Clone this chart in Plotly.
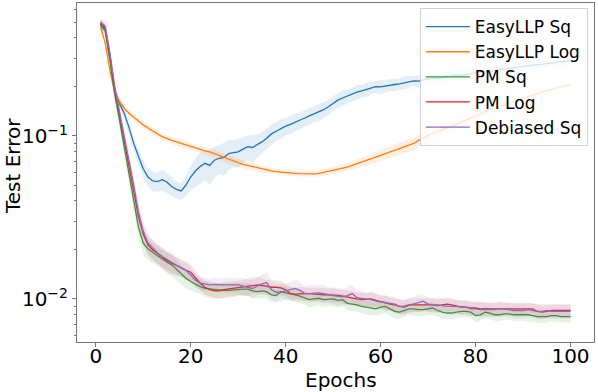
import plotly.graph_objects as go

# test error per epoch
epochs = list(range(1, 101))

easyllp_sq = [
    0.49, 0.45, 0.30, 0.19, 0.158, 0.138, 0.113, 0.090, 0.075, 0.063,
    0.056, 0.053, 0.0525, 0.054, 0.052, 0.049, 0.047, 0.046, 0.050, 0.056,
    0.061, 0.065, 0.068, 0.066, 0.071, 0.073, 0.074, 0.078, 0.079, 0.080,
    0.083, 0.086, 0.085, 0.088, 0.092, 0.097, 0.103, 0.107, 0.111, 0.115,
    0.118, 0.122, 0.125, 0.129, 0.133, 0.137, 0.140, 0.145, 0.151, 0.158,
    0.166, 0.171, 0.176, 0.180, 0.186, 0.189, 0.193, 0.198, 0.201, 0.200,
    0.203, 0.206, 0.207, 0.209, 0.213, 0.215, 0.218, 0.217, 0.221, 0.224,
    0.226, 0.225, 0.229, 0.232, 0.234, 0.236, 0.235, 0.239, 0.242, 0.245,
    0.247, 0.250, 0.249, 0.253, 0.256, 0.258, 0.260, 0.262, 0.264, 0.267,
    0.270, 0.271, 0.274, 0.276, 0.278, 0.280, 0.283, 0.285, 0.287, 0.290,
]
easyllp_log = [
    0.47, 0.37, 0.25, 0.185, 0.163, 0.148, 0.138, 0.130, 0.123, 0.117,
    0.112, 0.107, 0.103, 0.099, 0.096, 0.094, 0.092, 0.090, 0.088, 0.086,
    0.085, 0.083, 0.081, 0.080, 0.078, 0.076, 0.074, 0.072, 0.070, 0.068,
    0.067, 0.066, 0.065, 0.0635, 0.0625, 0.0617, 0.0610, 0.0605, 0.0600, 0.0595,
    0.0592, 0.0590, 0.0588, 0.0586, 0.0585, 0.0586, 0.0590, 0.0598, 0.0607, 0.0615,
    0.0625, 0.0635, 0.0645, 0.0660, 0.0675, 0.0690, 0.0705, 0.0720, 0.0740, 0.0760,
    0.078, 0.080, 0.082, 0.084, 0.086, 0.088, 0.090, 0.094, 0.098, 0.101,
    0.104, 0.107, 0.110, 0.112, 0.115, 0.118, 0.121, 0.125, 0.129, 0.133,
    0.137, 0.141, 0.145, 0.148, 0.152, 0.155, 0.159, 0.163, 0.167, 0.171,
    0.175, 0.179, 0.183, 0.186, 0.190, 0.194, 0.197, 0.200, 0.204, 0.207,
]
pm_sq = [
    0.48, 0.44, 0.29, 0.18, 0.125, 0.085, 0.058, 0.040, 0.0275, 0.022,
    0.0203, 0.0193, 0.0184, 0.0176, 0.0168, 0.0162, 0.0152, 0.0142, 0.0134, 0.0128,
    0.0123, 0.0119, 0.0116, 0.0115, 0.0114, 0.0113, 0.0113, 0.0113, 0.0114, 0.0115,
    0.0115, 0.0115, 0.0112, 0.0111, 0.0112, 0.0111, 0.0106, 0.0105, 0.0111, 0.0109,
    0.0108, 0.0106, 0.0104, 0.0102, 0.0099, 0.0100, 0.0101, 0.0099, 0.0100, 0.0100,
    0.0098, 0.0099, 0.0094, 0.0093, 0.0092, 0.0090, 0.0089, 0.0088, 0.0087, 0.0089,
    0.0090, 0.0087, 0.0084, 0.0083, 0.0085, 0.0087, 0.0087, 0.0086, 0.0086, 0.0087,
    0.0088, 0.0085, 0.0083, 0.0082, 0.0082, 0.0083, 0.0084, 0.0084, 0.0083, 0.0079,
    0.0080, 0.0083, 0.0082, 0.0080, 0.0080, 0.0081, 0.0081, 0.0080, 0.0080, 0.0080,
    0.0080, 0.0079, 0.0078, 0.0078, 0.0078, 0.0079, 0.0079, 0.0078, 0.0078, 0.0078,
]
pm_log = [
    0.49, 0.46, 0.31, 0.19, 0.135, 0.095, 0.066, 0.046, 0.032, 0.025,
    0.0215, 0.0200, 0.0190, 0.0180, 0.0172, 0.0166, 0.0160, 0.0155, 0.0150, 0.0146,
    0.0135, 0.0125, 0.0118, 0.0114, 0.0112, 0.0112, 0.0114, 0.0115, 0.0116, 0.0117,
    0.0118, 0.0119, 0.0121, 0.0122, 0.0121, 0.0119, 0.0118, 0.0118, 0.0117, 0.0114,
    0.0108, 0.0107, 0.0108, 0.0108, 0.0108, 0.0107, 0.0107, 0.0106, 0.0106, 0.0106,
    0.0105, 0.0104, 0.0103, 0.0102, 0.0100, 0.0099, 0.0099, 0.0100, 0.0098, 0.0096,
    0.0095, 0.0093, 0.0092, 0.0090, 0.0090, 0.0092, 0.0092, 0.0092, 0.0092, 0.0092,
    0.0092, 0.0091, 0.0092, 0.0093, 0.0092, 0.0090, 0.0089, 0.0089, 0.0088, 0.0088,
    0.0087, 0.0087, 0.0087, 0.0087, 0.0087, 0.0087, 0.0087, 0.0087, 0.0087, 0.0087,
    0.0087, 0.0087, 0.0084, 0.0083, 0.0084, 0.0085, 0.0085, 0.0085, 0.0085, 0.0085,
]
debiased_sq = [
    0.50, 0.47, 0.32, 0.20, 0.140, 0.100, 0.070, 0.050, 0.034, 0.026,
    0.0220, 0.0205, 0.0192, 0.0182, 0.0174, 0.0167, 0.0161, 0.0155, 0.0150, 0.0140,
    0.0130, 0.0125, 0.0123, 0.0122, 0.0123, 0.0122, 0.0122, 0.0122, 0.0122, 0.0122,
    0.0120, 0.0118, 0.0116, 0.0120, 0.0124, 0.0126, 0.0114, 0.0110, 0.0110, 0.0112,
    0.0114, 0.0116, 0.0113, 0.0108, 0.0108, 0.0109, 0.0109, 0.0108, 0.0106, 0.0105,
    0.0104, 0.0103, 0.0105, 0.0108, 0.0102, 0.0101, 0.0099, 0.0099, 0.0097, 0.0096,
    0.0095, 0.0094, 0.0093, 0.0090, 0.0089, 0.00915, 0.0093, 0.0095, 0.0097, 0.0093,
    0.0092, 0.0092, 0.0091, 0.0090, 0.0090, 0.0090, 0.0089, 0.0089, 0.0087, 0.0087,
    0.0086, 0.0086, 0.0086, 0.0086, 0.0087, 0.0087, 0.0086, 0.0085, 0.0085, 0.0085,
    0.0086, 0.0085, 0.0084, 0.0084, 0.0085, 0.0084, 0.0084, 0.0084, 0.0084, 0.0084,
]

# relative half-width of the shaded band around each curve
easyllp_sq_spread = [
    0.05, 0.05, 0.06, 0.06, 0.07, 0.08, 0.09, 0.10, 0.11, 0.12,
    0.13, 0.14, 0.13, 0.15, 0.14, 0.13, 0.12, 0.12, 0.14, 0.17,
    0.20, 0.22, 0.21, 0.24, 0.22, 0.20, 0.23, 0.21, 0.19, 0.20,
    0.18, 0.17, 0.19, 0.16, 0.15, 0.14, 0.15, 0.13, 0.14, 0.12,
    0.13, 0.12, 0.13, 0.11, 0.12, 0.11, 0.12, 0.11, 0.10, 0.11,
    0.10, 0.11, 0.10, 0.09, 0.10, 0.09, 0.10, 0.09, 0.08, 0.10,
    0.09, 0.08, 0.09, 0.08, 0.09, 0.08, 0.07, 0.08, 0.09, 0.08,
    0.07, 0.08, 0.07, 0.08, 0.07, 0.08, 0.07, 0.06, 0.07, 0.07,
    0.06, 0.07, 0.06, 0.07, 0.06, 0.06, 0.07, 0.06, 0.06, 0.06,
    0.05, 0.06, 0.05, 0.06, 0.05, 0.05, 0.06, 0.05, 0.05, 0.05,
]
easyllp_log_spread = [
    0.04, 0.04, 0.05, 0.05, 0.05, 0.05, 0.05, 0.05, 0.05, 0.05,
    0.05, 0.05, 0.05, 0.05, 0.05, 0.05, 0.05, 0.05, 0.05, 0.05,
    0.05, 0.05, 0.05, 0.06, 0.06, 0.06, 0.06, 0.06, 0.06, 0.06,
    0.05, 0.05, 0.05, 0.05, 0.05, 0.04, 0.04, 0.04, 0.04, 0.04,
    0.04, 0.04, 0.04, 0.04, 0.04, 0.04, 0.04, 0.05, 0.05, 0.05,
    0.05, 0.05, 0.06, 0.06, 0.06, 0.07, 0.07, 0.07, 0.08, 0.08,
    0.08, 0.09, 0.09, 0.09, 0.09, 0.09, 0.09, 0.08, 0.08, 0.08,
    0.08, 0.08, 0.07, 0.07, 0.07, 0.07, 0.07, 0.07, 0.06, 0.06,
    0.06, 0.06, 0.06, 0.06, 0.06, 0.05, 0.05, 0.05, 0.05, 0.05,
    0.05, 0.05, 0.05, 0.05, 0.05, 0.04, 0.04, 0.04, 0.04, 0.04,
]
pm_sq_spread = [
    0.06, 0.07, 0.08, 0.09, 0.10, 0.11, 0.12, 0.13, 0.14, 0.15,
    0.15, 0.14, 0.13, 0.13, 0.14, 0.15, 0.14, 0.13, 0.14, 0.12,
    0.11, 0.10, 0.11, 0.12, 0.11, 0.10, 0.11, 0.10, 0.10, 0.09,
    0.10, 0.09, 0.10, 0.09, 0.10, 0.09, 0.10, 0.09, 0.09, 0.10,
    0.09, 0.09, 0.10, 0.09, 0.10, 0.09, 0.09, 0.10, 0.09, 0.09,
    0.10, 0.09, 0.09, 0.10, 0.09, 0.09, 0.10, 0.09, 0.09, 0.10,
    0.09, 0.09, 0.10, 0.09, 0.09, 0.08, 0.09, 0.08, 0.09, 0.08,
    0.09, 0.08, 0.09, 0.08, 0.09, 0.08, 0.09, 0.08, 0.08, 0.09,
    0.08, 0.09, 0.08, 0.08, 0.09, 0.08, 0.08, 0.09, 0.08, 0.08,
    0.09, 0.08, 0.08, 0.09, 0.08, 0.08, 0.09, 0.08, 0.08, 0.08,
]
pm_log_spread = [
    0.06, 0.07, 0.08, 0.09, 0.10, 0.11, 0.12, 0.13, 0.14, 0.14,
    0.14, 0.14, 0.13, 0.14, 0.15, 0.14, 0.13, 0.12, 0.13, 0.12,
    0.11, 0.10, 0.10, 0.09, 0.10, 0.11, 0.10, 0.10, 0.11, 0.10,
    0.11, 0.12, 0.11, 0.12, 0.11, 0.10, 0.11, 0.10, 0.10, 0.09,
    0.10, 0.09, 0.10, 0.09, 0.09, 0.10, 0.09, 0.10, 0.09, 0.10,
    0.09, 0.10, 0.09, 0.09, 0.10, 0.09, 0.09, 0.10, 0.09, 0.09,
    0.10, 0.09, 0.09, 0.10, 0.09, 0.10, 0.09, 0.10, 0.09, 0.09,
    0.10, 0.09, 0.09, 0.10, 0.09, 0.09, 0.10, 0.09, 0.09, 0.09,
    0.10, 0.09, 0.09, 0.09, 0.10, 0.09, 0.09, 0.09, 0.10, 0.09,
    0.09, 0.09, 0.10, 0.09, 0.09, 0.09, 0.09, 0.09, 0.09, 0.09,
]
debiased_sq_spread = [
    0.06, 0.07, 0.08, 0.09, 0.10, 0.12, 0.13, 0.14, 0.15, 0.15,
    0.14, 0.13, 0.14, 0.13, 0.12, 0.13, 0.12, 0.11, 0.12, 0.11,
    0.10, 0.09, 0.10, 0.09, 0.10, 0.09, 0.10, 0.11, 0.10, 0.11,
    0.12, 0.11, 0.13, 0.12, 0.14, 0.16, 0.13, 0.12, 0.13, 0.11,
    0.12, 0.14, 0.12, 0.11, 0.13, 0.11, 0.12, 0.13, 0.11, 0.12,
    0.13, 0.11, 0.12, 0.14, 0.11, 0.12, 0.11, 0.12, 0.11, 0.10,
    0.11, 0.10, 0.12, 0.10, 0.11, 0.10, 0.11, 0.12, 0.10, 0.11,
    0.10, 0.11, 0.10, 0.10, 0.11, 0.10, 0.10, 0.11, 0.10, 0.10,
    0.11, 0.10, 0.10, 0.10, 0.11, 0.10, 0.10, 0.10, 0.11, 0.10,
    0.10, 0.10, 0.10, 0.11, 0.10, 0.10, 0.10, 0.10, 0.10, 0.10,
]

series = [
    ("EasyLLP Sq", easyllp_sq, easyllp_sq_spread, "31,119,180"),
    ("EasyLLP Log", easyllp_log, easyllp_log_spread, "255,127,14"),
    ("PM Sq", pm_sq, pm_sq_spread, "44,160,44"),
    ("PM Log", pm_log, pm_log_spread, "214,39,40"),
    ("Debiased Sq", debiased_sq, debiased_sq_spread, "148,103,189"),
]

FONT = "DejaVu Sans"
AXIS_COLOR = "#777777"

fig = go.Figure()
for name, vals, spread, rgb in series:
    lower = [v * (1 - s) for v, s in zip(vals, spread)]
    upper = [v * (1 + s) for v, s in zip(vals, spread)]
    fig.add_trace(go.Scatter(x=epochs, y=lower, mode="lines", line=dict(width=0),
                             showlegend=False, hoverinfo="skip"))
    fig.add_trace(go.Scatter(x=epochs, y=upper, mode="lines", line=dict(width=0),
                             fill="tonexty", fillcolor=f"rgba({rgb},0.12)",
                             showlegend=False, hoverinfo="skip"))
    fig.add_trace(go.Scatter(x=epochs, y=vals, mode="lines", name=name,
                             line=dict(color=f"rgb({rgb})", width=1.3)))

minor_vals = [0.006, 0.007, 0.008, 0.009] + [k / 100 for k in range(2, 10)] + [k / 10 for k in range(2, 7)]

fig.update_layout(
    width=598, height=392,
    margin=dict(l=77, r=4, t=3, b=50),
    paper_bgcolor="white", plot_bgcolor="white",
    font=dict(family=FONT, size=20, color="black"),
    showlegend=True,
    legend=dict(
        x=0.988, y=0.985, xanchor="right", yanchor="top",
        traceorder="normal", itemwidth=44,
        bgcolor="rgba(255,255,255,0.8)", bordercolor="#d0d0d0", borderwidth=1,
        font=dict(family=FONT, size=17, color="black"),
        tracegroupgap=0,
    ),
    xaxis=dict(
        automargin=False,
        range=[-3.95, 104.95],
        tickvals=[0, 20, 40, 60, 80, 100],
        ticks="outside", ticklen=4, tickcolor=AXIS_COLOR,
        ticklabelstandoff=-8,
        showgrid=False, zeroline=False,
        showline=True, linecolor=AXIS_COLOR, linewidth=1, mirror=True,
        tickfont=dict(size=20),
    ),
    yaxis=dict(
        automargin=False,
        type="log",
        range=[-2.264, -0.184],
        tickvals=[0.01, 0.1],
        ticktext=["10<sup>\u22122</sup>", "10<sup>\u22121</sup>"],
        ticks="outside", ticklen=4, tickcolor=AXIS_COLOR,
        minor=dict(tickvals=minor_vals, ticks="outside", ticklen=2, tickcolor=AXIS_COLOR, showgrid=False),
        showgrid=False, zeroline=False,
        showline=True, linecolor=AXIS_COLOR, linewidth=1, mirror=True,
        tickfont=dict(size=20),
    ),
    annotations=[
        dict(text="Epochs", xref="paper", yref="paper", x=0.51, y=-0.112,
             xanchor="center", yanchor="middle", showarrow=False,
             font=dict(family=FONT, size=20, color="black")),
        dict(text="Test Error", xref="paper", yref="paper", x=-0.125, y=0.52,
             xanchor="center", yanchor="middle", textangle=-90, showarrow=False,
             font=dict(family=FONT, size=20, color="black")),
    ],
)

# page body has a default 8px margin; drop it so the figure sits at the window origin
fig.write_html("out.html", config={"displayModeBar": False},
               post_script="document.body.style.margin='0';")
